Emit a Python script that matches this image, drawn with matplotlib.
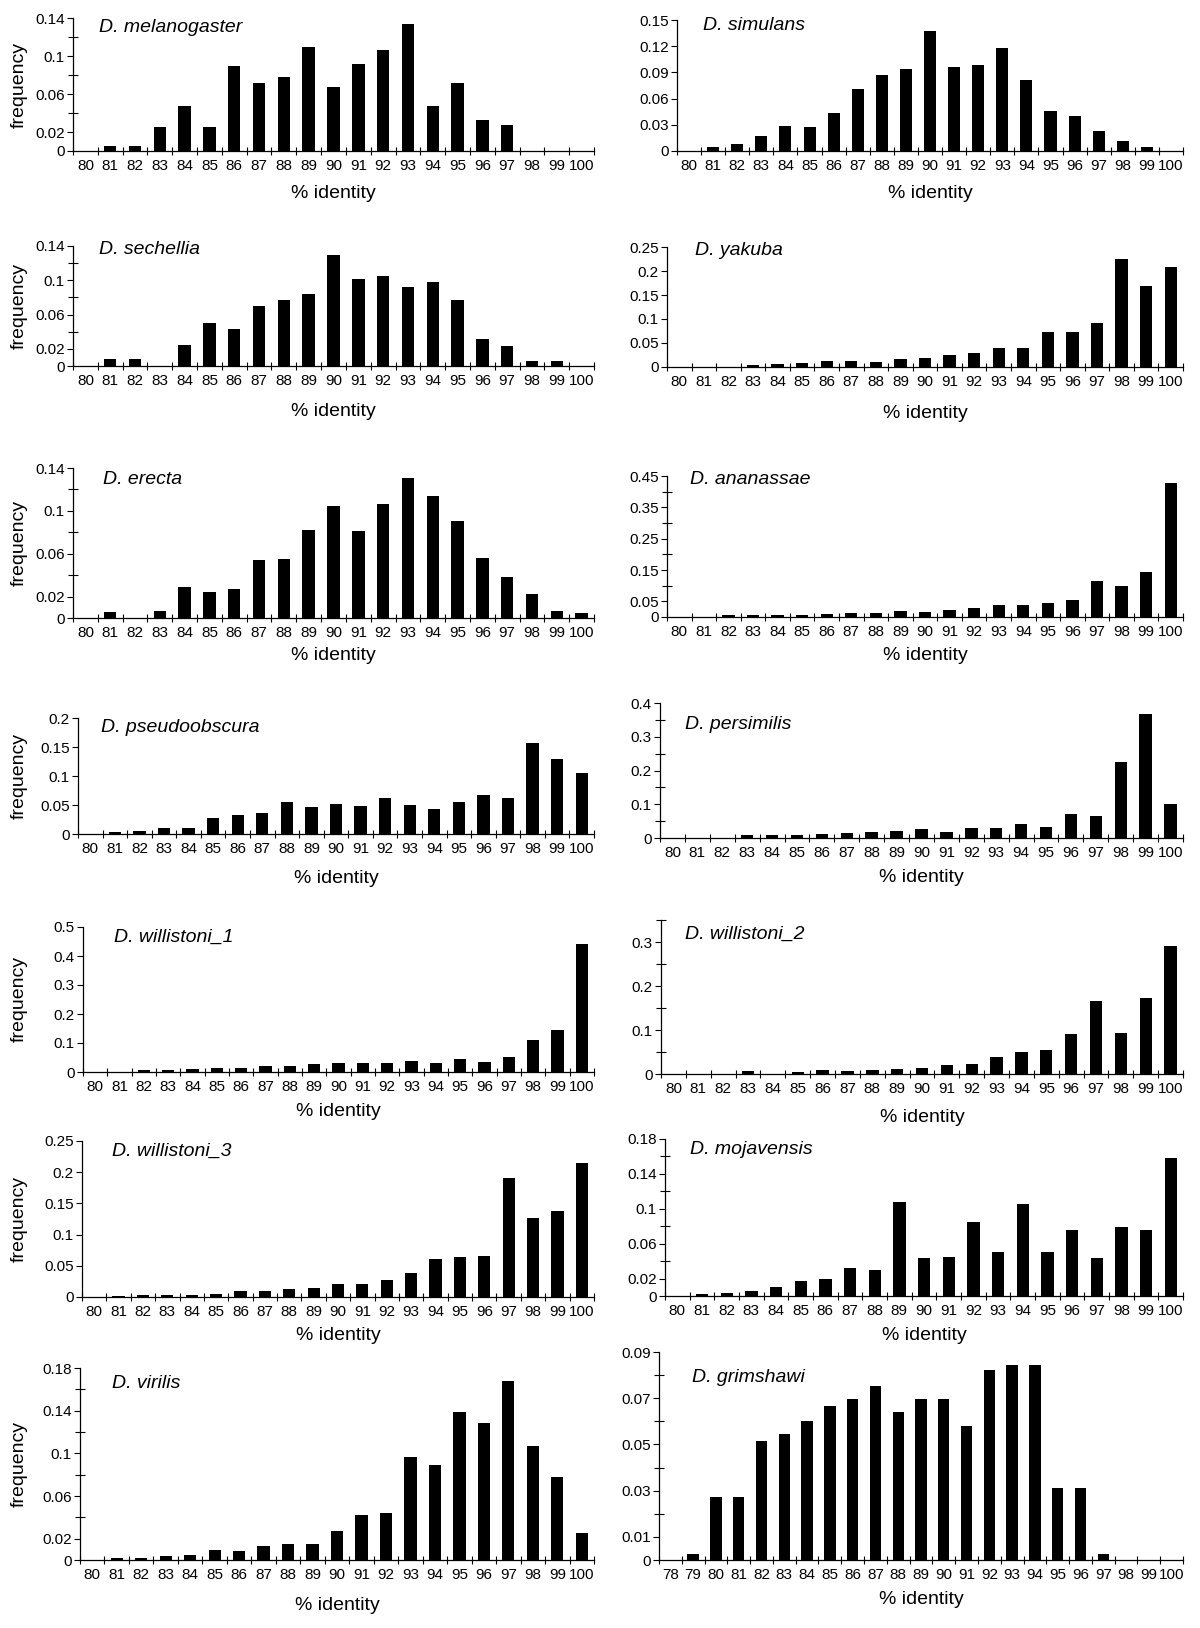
import numpy as np
import matplotlib
matplotlib.use('Agg')
import matplotlib.pyplot as plt

plt.rcParams['font.family'] = ['Liberation Sans', 'DejaVu Sans']

# categories (% identity)
identity = [str(v) for v in range(80, 101)]
identity_grim = [str(v) for v in range(78, 101)]

# frequencies
melanogaster = [0, 0.005, 0.005, 0.025, 0.047, 0.025, 0.089, 0.072, 0.078, 0.109, 0.067,
                0.092, 0.106, 0.134, 0.047, 0.072, 0.033, 0.027, 0, 0, 0]
simulans = [0, 0.0046, 0.0084, 0.017, 0.029, 0.027, 0.044, 0.071, 0.087, 0.094, 0.137,
            0.096, 0.098, 0.118, 0.081, 0.046, 0.040, 0.023, 0.011, 0.0046, 0]
sechellia = [0, 0.0076, 0.0076, 0, 0.024, 0.050, 0.0435, 0.070, 0.0775, 0.0835, 0.130,
             0.1015, 0.105, 0.0916, 0.098, 0.0775, 0.032, 0.0237, 0.0057, 0.0057, 0]
yakuba = [0, 0, 0, 0.004, 0.007, 0.0075, 0.0115, 0.013, 0.011, 0.0157, 0.018,
          0.024, 0.029, 0.040, 0.040, 0.073, 0.073, 0.091, 0.226, 0.169, 0.209]
erecta = [0, 0.0056, 0, 0.007, 0.029, 0.024, 0.0268, 0.0545, 0.0554, 0.082, 0.105,
          0.081, 0.106, 0.131, 0.114, 0.091, 0.0563, 0.038, 0.0224, 0.0065, 0.0047]
ananassae = [0, 0, 0.0064, 0.0064, 0.0064, 0.0075, 0.0096, 0.012, 0.013, 0.019, 0.017,
             0.021, 0.030, 0.0375, 0.0375, 0.044, 0.055, 0.115, 0.0975, 0.1425, 0.429]
pseudoobscura = [0, 0.003, 0.0053, 0.011, 0.011, 0.027, 0.032, 0.037, 0.056, 0.047, 0.0515,
                 0.0475, 0.0614, 0.0497, 0.0433, 0.056, 0.0667, 0.0614, 0.157, 0.130, 0.106]
persimilis = [0, 0, 0, 0.008, 0.010, 0.009, 0.012, 0.015, 0.019, 0.020, 0.028,
              0.017, 0.030, 0.030, 0.042, 0.033, 0.072, 0.064, 0.224, 0.368, 0.100]
willistoni_1 = [0, 0, 0.008, 0.008, 0.0103, 0.0126, 0.0126, 0.0195, 0.022, 0.026, 0.031,
                0.030, 0.030, 0.038, 0.030, 0.046, 0.0345, 0.0506, 0.109, 0.1437, 0.4425]
willistoni_2 = [0, 0, 0, 0.006, 0, 0.0053, 0.009, 0.0076, 0.009, 0.0106, 0.0136,
                0.0197, 0.022, 0.039, 0.051, 0.055, 0.092, 0.165, 0.093, 0.173, 0.291]
willistoni_3 = [0, 0.002, 0.0038, 0.0032, 0.0038, 0.0054, 0.0092, 0.0097, 0.0135, 0.015, 0.0205,
                0.0205, 0.027, 0.0378, 0.061, 0.0637, 0.0653, 0.1906, 0.1264, 0.138, 0.214]
mojavensis = [0, 0.0023, 0.003, 0.006, 0.010, 0.0168, 0.0195, 0.0324, 0.030, 0.1075, 0.0435,
              0.045, 0.0854, 0.051, 0.1056, 0.0503, 0.0759, 0.0439, 0.079, 0.0755, 0.1587]
virilis = [0, 0.002, 0.002, 0.004, 0.005, 0.009, 0.008, 0.013, 0.015, 0.015, 0.027,
           0.042, 0.044, 0.097, 0.0895, 0.139, 0.128, 0.168, 0.107, 0.078, 0.025]
grimshawi = [0, 0.0027, 0.0273, 0.0273, 0.0515, 0.0546, 0.060, 0.0667, 0.0698, 0.0752, 0.064,
             0.0698, 0.0698, 0.0578, 0.082, 0.0842, 0.0842, 0.031, 0.031, 0.0027, 0, 0, 0]

names = ['D. melanogaster', 'D. simulans', 'D. sechellia', 'D. yakuba', 'D. erecta',
         'D. ananassae', 'D. pseudoobscura', 'D. persimilis', 'D. willistoni_1',
         'D. willistoni_2', 'D. willistoni_3', 'D. mojavensis', 'D. virilis', 'D. grimshawi']
series = [melanogaster, simulans, sechellia, yakuba, erecta, ananassae, pseudoobscura,
          persimilis, willistoni_1, willistoni_2, willistoni_3, mojavensis, virilis, grimshawi]
cats = [identity] * 13 + [identity_grim]

# y axis: (top, labelled ticks, unlabelled ticks)
yaxes = [
    (0.14, [0, 0.02, 0.06, 0.1, 0.14], [0.04, 0.08, 0.12]),
    (0.15, [0, 0.03, 0.06, 0.09, 0.12, 0.15], []),
    (0.14, [0, 0.02, 0.06, 0.1, 0.14], [0.04, 0.08, 0.12]),
    (0.25, [0, 0.05, 0.1, 0.15, 0.2, 0.25], []),
    (0.14, [0, 0.02, 0.06, 0.1, 0.14], [0.04, 0.08, 0.12]),
    (0.45, [0, 0.05, 0.15, 0.25, 0.35, 0.45], [0.1, 0.2, 0.3, 0.4]),
    (0.2, [0, 0.05, 0.1, 0.15, 0.2], []),
    (0.4, [0, 0.1, 0.2, 0.3, 0.4], [0.05, 0.15, 0.25, 0.35]),
    (0.5, [0, 0.1, 0.2, 0.3, 0.4, 0.5], []),
    (0.35, [0, 0.1, 0.2, 0.3], [0.05, 0.15, 0.25, 0.35]),
    (0.25, [0, 0.05, 0.1, 0.15, 0.2, 0.25], []),
    (0.18, [0, 0.02, 0.06, 0.1, 0.14, 0.18], [0.04, 0.08, 0.12, 0.16]),
    (0.18, [0, 0.02, 0.06, 0.1, 0.14, 0.18], [0.04, 0.08, 0.12, 0.16]),
    (0.09, [0, 0.01, 0.03, 0.05, 0.07, 0.09], [0.02, 0.04, 0.06, 0.08]),
]

# axes boxes in pixels: left, right, top, bottom
boxes = [(73, 594, 18, 151), (677, 1183, 20, 151),
         (73, 594, 246, 366), (667, 1183, 247, 367),
         (73, 594, 468, 618), (667, 1183, 476, 617),
         (78, 594, 718, 834), (660, 1183, 703, 838),
         (83, 594, 927, 1072), (661, 1183, 920, 1074),
         (82, 594, 1141, 1297), (665, 1183, 1139, 1296),
         (80, 594, 1368, 1560), (659, 1183, 1352, 1560)]
title_off = [(26, 10), (26, 6), (26, 4), (28, 3), (30, 11), (23, 3), (23, 9),
             (25, 21), (31, 10), (24, 14), (30, 10), (25, 11), (32, 15), (33, 25)]
xlab_off = [43, 43, 46, 46, 37, 38, 44, 40, 40, 43, 39, 39, 46, 40]

W, H = 1200, 1628
fig = plt.figure(figsize=(W / 100, H / 100), dpi=100)

for i in range(14):
    L, R, T, B = boxes[i]
    ax = fig.add_axes([L / W, 1 - B / H, (R - L) / W, (B - T) / H])
    n = len(cats[i])
    x = np.arange(n)
    ax.bar(x, series[i], width=0.5, color='black')
    ax.set_xlim(-0.5, n - 0.5)
    top, major, minor = yaxes[i]
    ax.set_ylim(0, top)
    ax.set_yticks(major)
    ax.set_yticklabels(['%g' % v for v in major])
    ax.set_yticks(minor, minor=True)
    ax.set_xticks(x)
    ax.set_xticklabels(cats[i])
    ax.set_xticks(np.arange(-0.5, n), minor=True)
    ax.tick_params(axis='x', which='major', length=0, labelsize=11, pad=6)
    ax.tick_params(axis='x', which='minor', direction='inout', length=6, width=0.8)
    ax.tick_params(axis='y', which='major', direction='out', length=4, width=0.8,
                   labelsize=11, pad=2)
    ax.tick_params(axis='y', which='minor', direction='inout', length=7, width=0.8)
    for s in ['top', 'right']:
        ax.spines[s].set_visible(False)
    for s in ['left', 'bottom']:
        ax.spines[s].set_linewidth(0.9)
    ax.set_xlabel('% identity', fontsize=14)
    ax.xaxis.set_label_coords(0.5, -xlab_off[i] / (B - T))
    ax.xaxis.label.set_va('center')
    if i % 2 == 0:
        ax.set_ylabel('frequency', fontsize=14)
        ax.yaxis.set_label_coords((19 - L) / (R - L), 0.5)
        ax.yaxis.label.set_va('center')
    dx, dy = title_off[i]
    ax.text(dx / (R - L), 1 - dy / (B - T), names[i], transform=ax.transAxes,
            fontsize=14, style='italic', ha='left', va='center')

fig.savefig('out.png', dpi=100)
